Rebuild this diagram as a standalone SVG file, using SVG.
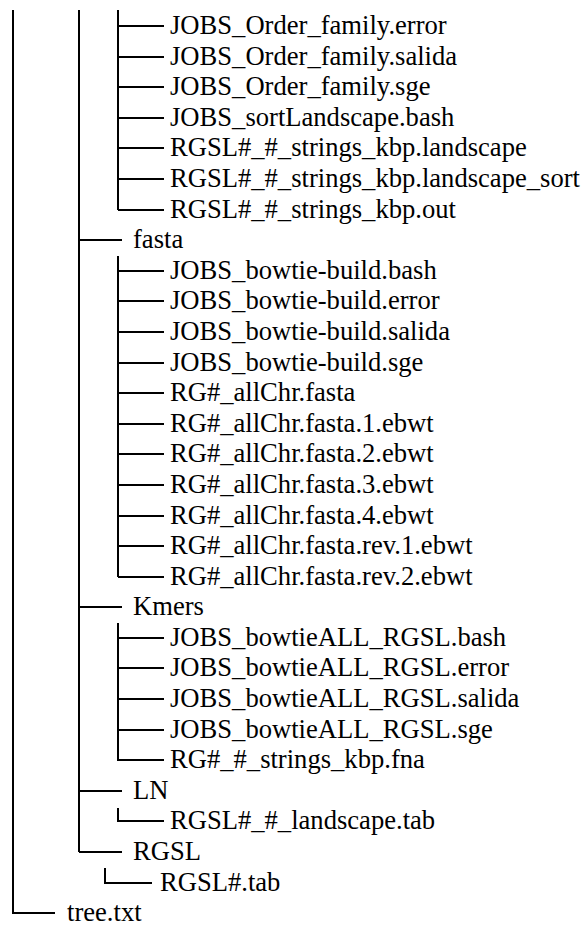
<svg xmlns="http://www.w3.org/2000/svg" width="587" height="928" viewBox="0 0 587 928">
<style>
.c{stroke:#000;stroke-width:2;fill:none}
.t{font-family:"Liberation Serif","Times New Roman",serif;font-size:26.6px;fill:#000}
</style>
<rect width="587" height="928" fill="#fff"/>
<g id="connectors" class="c">
<path d="M13 10V913H55"/>
<path d="M79 10V852"/>
<path d="M79 240H122M79 607H122M79 791H122M79 852H122"/>
<path d="M118 10V210"/>
<path d="M118 26H164M118 57H164M118 87H164M118 118H164M118 148H164M118 179H164M118 210H164"/>
<path d="M118 256V577"/>
<path d="M118 271H164M118 301H164M118 332H164M118 363H164M118 393H164M118 424H164M118 454H164M118 485H164M118 516H164M118 546H164M118 577H164"/>
<path d="M118 623V760H164"/>
<path d="M118 638H164M118 668H164M118 699H164M118 730H164"/>
<path d="M118 808V821H164"/>
<path d="M105 868V883H152"/>
</g>
<g class="t">
<g id="n1"><text x="170" y="34">JOBS_Order_family.error</text></g>
<g id="n2"><text x="170" y="65">JOBS_Order_family.salida</text></g>
<g id="n3"><text x="170" y="95">JOBS_Order_family.sge</text></g>
<g id="n4"><text x="170" y="126">JOBS_sortLandscape.bash</text></g>
<g id="n5"><text x="170" y="156">RGSL#_#_strings_kbp.landscape</text></g>
<g id="n6"><text x="170" y="187">RGSL#_#_strings_kbp.landscape_sort</text></g>
<g id="n7"><text x="170" y="218">RGSL#_#_strings_kbp.out</text></g>
<g id="fasta"><text x="133" y="248">fasta</text></g>
<g id="n9"><text x="170" y="279">JOBS_bowtie-build.bash</text></g>
<g id="n10"><text x="170" y="309">JOBS_bowtie-build.error</text></g>
<g id="n11"><text x="170" y="340">JOBS_bowtie-build.salida</text></g>
<g id="n12"><text x="170" y="371">JOBS_bowtie-build.sge</text></g>
<g id="n13"><text x="170" y="401">RG#_allChr.fasta</text></g>
<g id="n14"><text x="170" y="432">RG#_allChr.fasta.1.ebwt</text></g>
<g id="n15"><text x="170" y="462">RG#_allChr.fasta.2.ebwt</text></g>
<g id="n16"><text x="170" y="493">RG#_allChr.fasta.3.ebwt</text></g>
<g id="n17"><text x="170" y="524">RG#_allChr.fasta.4.ebwt</text></g>
<g id="n18"><text x="170" y="554">RG#_allChr.fasta.rev.1.ebwt</text></g>
<g id="n19"><text x="170" y="585">RG#_allChr.fasta.rev.2.ebwt</text></g>
<g id="kmers"><text x="133" y="615">Kmers</text></g>
<g id="n21"><text x="170" y="646">JOBS_bowtieALL_RGSL.bash</text></g>
<g id="n22"><text x="170" y="676">JOBS_bowtieALL_RGSL.error</text></g>
<g id="n23"><text x="170" y="707">JOBS_bowtieALL_RGSL.salida</text></g>
<g id="n24"><text x="170" y="738">JOBS_bowtieALL_RGSL.sge</text></g>
<g id="n25"><text x="170" y="768">RG#_#_strings_kbp.fna</text></g>
<g id="ln"><text x="133" y="799">LN</text></g>
<g id="n27"><text x="170" y="829">RGSL#_#_landscape.tab</text></g>
<g id="rgsl"><text x="133" y="860">RGSL</text></g>
<g id="n29"><text x="160" y="891">RGSL#.tab</text></g>
<g id="tree"><text x="67" y="921">tree.txt</text></g>
</g>
</svg>
